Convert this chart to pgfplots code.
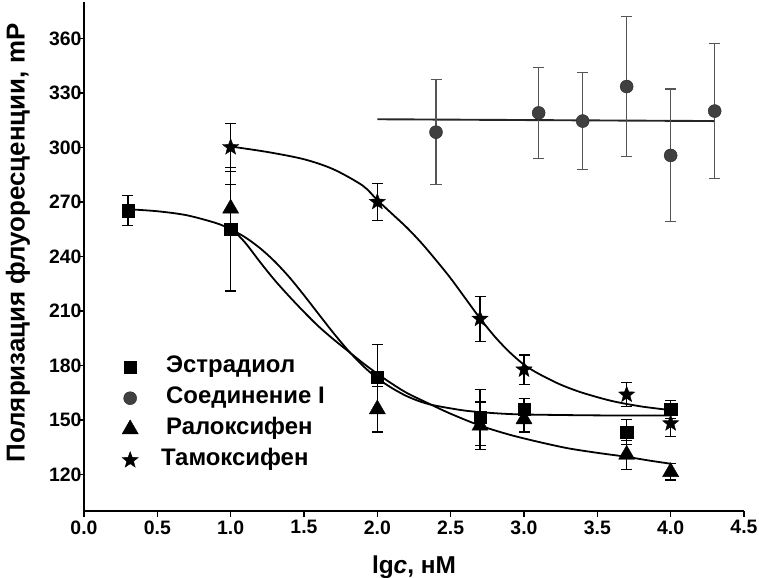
\documentclass[border=0pt]{standalone}
\usepackage{fontspec}
\setmainfont{Liberation Sans}
\usepackage{pgfplots}
\usepackage{pgfplotstable}
\pgfplotsset{compat=1.18}

% filled five-pointed star
\pgfdeclareplotmark{fstar}{%
  \pgfpathmoveto{\pgfpointpolar{90}{\pgfplotmarksize}}%
  \pgfpathlineto{\pgfpointpolar{126}{0.42*\pgfplotmarksize}}%
  \pgfpathlineto{\pgfpointpolar{162}{\pgfplotmarksize}}%
  \pgfpathlineto{\pgfpointpolar{198}{0.42*\pgfplotmarksize}}%
  \pgfpathlineto{\pgfpointpolar{234}{\pgfplotmarksize}}%
  \pgfpathlineto{\pgfpointpolar{270}{0.42*\pgfplotmarksize}}%
  \pgfpathlineto{\pgfpointpolar{306}{\pgfplotmarksize}}%
  \pgfpathlineto{\pgfpointpolar{342}{0.42*\pgfplotmarksize}}%
  \pgfpathlineto{\pgfpointpolar{18}{\pgfplotmarksize}}%
  \pgfpathlineto{\pgfpointpolar{54}{0.42*\pgfplotmarksize}}%
  \pgfpathclose
  \pgfusepathqfillstroke}

\definecolor{cmpfill}{RGB}{64,64,64}
\definecolor{cmpbar}{RGB}{85,85,85}
\newcommand{\tickfont}{\fontsize{19.5}{19.5}\selectfont\bfseries}

% x  y  err
\pgfplotstableread{
x y e
0.3 265.3 8.3
1.0 255.0 34
2.0 173.5 18
2.7 151.5 15.5
3.0 156.0 6
3.7 143.5 7
4.0 156.0 5
}\estr
\pgfplotstableread{
x y e
2.4 308.4 29
3.1 319.0 25
3.4 314.5 26.5
3.7 333.5 38.5
4.0 295.6 36.5
4.3 320.0 37
}\cmpd
\pgfplotstableread{
x y e
1.0 266.4 13
2.0 156.0 12.5
2.7 147.0 13
3.0 150.5 7
3.7 131.0 8
4.0 121.5 4.5
}\ralo
\pgfplotstableread{
x y e
1.0 300.1 13.2
2.0 270.0 10
2.7 205.7 12.5
3.0 177.8 8
3.7 164.0 6.5
4.0 148.2 7
}\tamo

% fitted curves, traced from the figure
\pgfplotstableread{
x y
0.3 266.0
0.5 264.9
0.7 262.7
0.9 258.4
1.0 255.0
1.1 250.5
1.2 244.6
1.3 237.3
1.4 228.6
1.5 218.7
1.6 208.3
1.7 198.0
1.8 188.4
1.9 180.0
2.0 173.0
2.1 167.6
2.2 163.2
2.3 160.0
2.4 157.9
2.6 155.2
2.8 153.8
3.0 153.1
3.5 152.6
4.0 152.5
}\estrfit
\pgfplotstableread{
x y
1.0 256.0
1.1 247.5
1.2 237.0
1.3 227.0
1.4 218.0
1.5 209.5
1.6 201.5
1.7 194.5
1.8 188.0
1.9 181.5
2.0 175.5
2.1 170.0
2.2 165.0
2.34 159.5
2.5 153.5
2.7 147.0
2.9 142.0
3.1 138.0
3.3 134.5
3.5 132.0
3.7 129.8
3.85 127.8
4.0 126.0
}\ralofit
\pgfplotstableread{
x y
1.0 300.5
1.25 297.5
1.5 293.5
1.7 288.0
1.9 279.0
2.0 271.0
2.1 263.5
2.2 256.0
2.3 247.5
2.4 238.0
2.5 228.0
2.6 217.0
2.7 206.0
2.8 196.0
2.9 187.5
3.0 180.5
3.1 175.5
3.25 169.5
3.4 165.0
3.6 160.5
3.8 157.5
4.0 155.5
}\tamofit

\begin{document}
\begin{tikzpicture}
\path[use as bounding box] (-84bp,-67bp) rectangle (675bp,511bp);
\begin{axis}[
  at={(0,0)}, anchor=south west,
  scale only axis, width=660bp, height=509bp,
  xmin=0, xmax=4.5, ymin=100, ymax=380,
  axis x line=bottom, axis y line=left,
  axis line style={line width=2.2bp, -},
  xtick={0,0.5,1,1.5,2,2.5,3,3.5,4,4.5},
  ytick={120,150,180,210,240,270,300,330,360},
  tick align=outside, major tick length=6bp,
  tick style={line width=1.6bp, black},
  xticklabel={\tickfont\pgfmathprintnumber[assume math mode=true, fixed, fixed zerofill, precision=1]{\tick}},
  yticklabel={\tickfont\pgfmathprintnumber[assume math mode=true, fixed, precision=0]{\tick}},
  yticklabel style={xshift=7bp},
  xlabel={lg\textit{c}, нМ},
  ylabel={Поляризация флуоресценции, mP},
  every axis x label/.style={at={(axis description cs:0.5,0)}, anchor=base, yshift=-62bp,
    font=\fontsize{24.5}{24.5}\selectfont\bfseries},
  every axis y label/.style={at={(axis description cs:-0.1,0.5265)}, rotate=90, anchor=center,
    font=\fontsize{26}{26}\selectfont\bfseries},
  legend image code/.code={%
    \path[draw=none, fill=none] (-18bp,-12bp) rectangle (36bp,12bp);
    \draw[#1] plot coordinates {(0bp,0bp)};},
  legend style={at={(axis description cs:0.0424,0.3065)}, anchor=north west,
    draw=none, fill=none, inner sep=0pt, row sep=7bp,
    nodes={inner sep=0pt, text height=16.5bp, text depth=5bp},
    font=\fontsize{24}{24}\selectfont\bfseries},
  legend cell align=left,
  error bars/error bar style={line width=1.2bp},
  error bars/error mark options={rotate=90, mark size=5.5bp, line width=1.2bp},
]
% fitted curves
\addplot[black, line width=1.8bp, smooth, forget plot] table {\estrfit};
\addplot[black, line width=1.8bp, smooth, forget plot] table {\ralofit};
\addplot[black, line width=1.8bp, smooth, forget plot] table {\tamofit};
\addplot[black!85, line width=1.9bp, forget plot] coordinates {(2.0,315.5) (4.3,314.5)};

% data points
\addplot[only marks, black, mark=square*, mark size=6.2bp, forget plot,
  error bars/.cd, y dir=both, y explicit]
  table[x=x, y=y, y error=e] {\estr};
\addplot[only marks, cmpbar, mark=*, mark size=6.5bp,
  mark options={fill=cmpfill, draw=black!85}, forget plot,
  error bars/.cd, y dir=both, y explicit]
  table[x=x, y=y, y error=e] {\cmpd};
\addplot[only marks, black, mark=triangle*, mark size=9.3bp, forget plot,
  error bars/.cd, y dir=both, y explicit]
  table[x=x, y=y, y error=e] {\ralo};
\addplot[only marks, black, mark=fstar, mark size=8.5bp, forget plot,
  error bars/.cd, y dir=both, y explicit]
  table[x=x, y=y, y error=e] {\tamo};

\addlegendimage{black, mark=square*, mark size=6.2bp}
\addlegendentry{Эстрадиол}
\addlegendimage{cmpfill, mark=*, mark size=6.5bp, mark options={fill=cmpfill, draw=black!85}}
\addlegendentry{Соединение I}
\addlegendimage{black, mark=triangle*, mark size=9.3bp}
\addlegendentry{Ралоксифен}
\addlegendimage{black, mark=fstar, mark size=8.5bp}
\addlegendentry{\hspace*{-5bp}Тамоксифен}
\end{axis}
\end{tikzpicture}
\end{document}
